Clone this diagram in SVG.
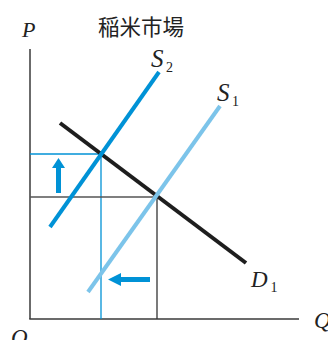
<svg xmlns="http://www.w3.org/2000/svg" width="328" height="340" viewBox="0 0 328 340">
<style>
.lbl{font-family:"Liberation Serif","DejaVu Serif",serif;font-style:italic;fill:#222}
.sub{font-family:"Liberation Serif","DejaVu Serif",serif;fill:#222}
.axis{stroke:#3a3a3a;stroke-width:1.5;fill:none}
.thin{stroke:#0092d6;stroke-width:1.3;fill:none}
.curve{stroke-width:4;fill:none}
.arr{fill:#0092d6}
</style>
<rect width="328" height="340" fill="#fff"/>
<text x="98" y="35" font-family="'Noto Sans CJK JP','Noto Sans CJK TC',sans-serif" font-size="21.5" fill="#222">稲米市場</text>
<g id="axes">
<line class="axis" x1="30" y1="49" x2="30" y2="319"/>
<line class="axis" x1="29.25" y1="319" x2="299" y2="319" stroke="#555"/>
<text class="lbl" x="22" y="36.5" font-size="22">P</text>
<text class="lbl" x="314" y="328" font-size="23">Q</text>
<text class="lbl" x="11" y="345" font-size="23">O</text>
</g>
<g id="connectors">
<line class="thin" x1="30" y1="154" x2="101" y2="154"/>
<line class="thin" x1="101" y1="154" x2="101" y2="319"/>
<line x1="30" y1="197" x2="157" y2="197" stroke="#555" stroke-width="1.5"/>
<line x1="157" y1="197" x2="157" y2="319" stroke="#333" stroke-width="1.3"/>
</g>
<g id="D1">
<line class="curve" x1="60" y1="123" x2="246" y2="263" stroke="#1e1e1e"/>
<text class="lbl" x="251" y="287" font-size="23">D</text>
<text class="sub" x="270.5" y="292" font-size="14">1</text>
</g>
<g id="S1">
<line class="curve" x1="88" y1="292" x2="220" y2="106" stroke="#7cc4ea"/>
<text class="lbl" x="217" y="100.5" font-size="25">S</text>
<text class="sub" x="232" y="105.5" font-size="14">1</text>
</g>
<g id="S2">
<line class="curve" x1="50" y1="227" x2="159" y2="72" stroke="#0092d6"/>
<text class="lbl" x="151" y="67" font-size="25">S</text>
<text class="sub" x="166" y="72" font-size="14">2</text>
</g>
<g id="arrow-up">
<polygon class="arr" points="58.5,158 65,168 61,168 61,193 56,193 56,168 52,168"/>
</g>
<g id="arrow-left">
<polygon class="arr" points="108,279.5 121,273 121,277 150,277 150,282 121,282 121,286"/>
</g>
</svg>
